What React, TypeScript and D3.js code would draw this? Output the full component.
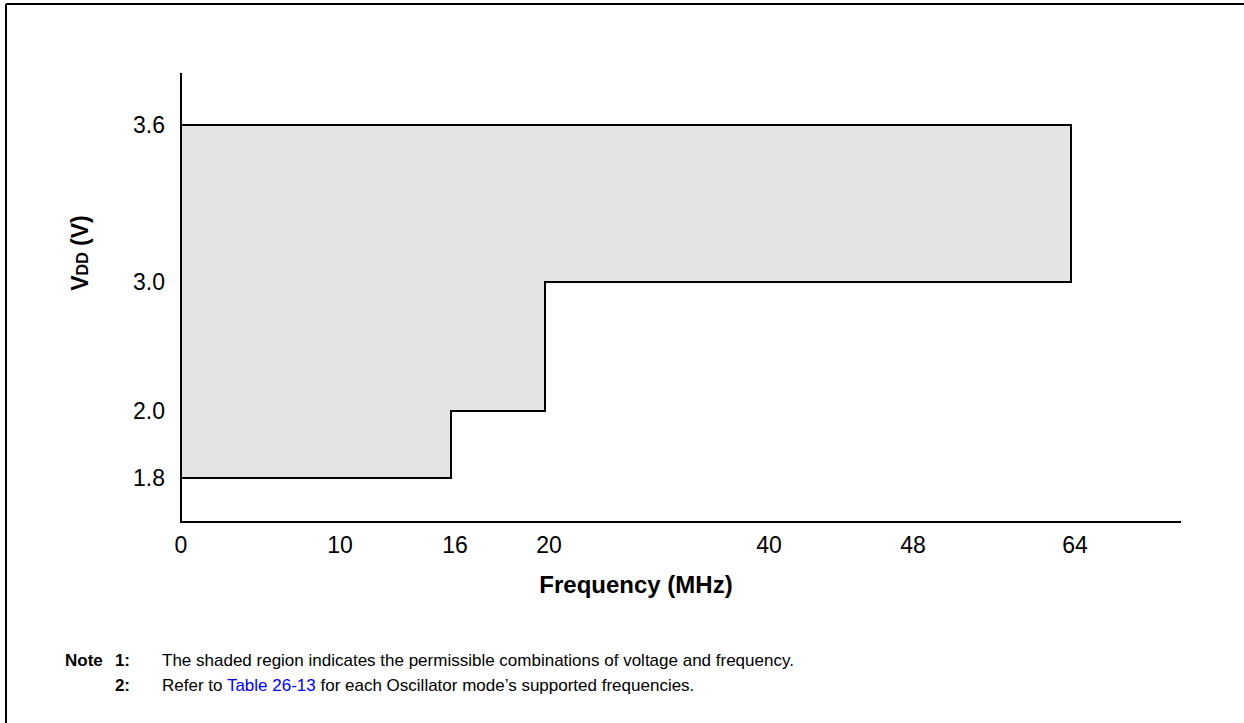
import React from "react";
import * as d3 from "d3";

// Data
const freqTicks = [0, 10, 16, 20, 40, 48, 64];
const vddTicks = [1.8, 2.0, 3.0, 3.6];
// Operating region boundary (frequency MHz, VDD V), clockwise
const regionFreq = [0, 64, 64, 20, 20, 16, 16, 0];
const regionVdd = [3.6, 3.6, 3.0, 3.0, 2.0, 2.0, 1.8, 1.8];
const xTitle = "Frequency (MHz)";
const note1 = "The shaded region indicates the permissible combinations of voltage and frequency.";
const note2Pre = "Refer to ";
const note2Link = "Table 26-13";
const note2Post = " for each Oscillator mode\u2019s supported frequencies.";

const W = 1244;
const H = 723;
const FONT = "'Liberation Sans', Arial, Helvetica, sans-serif";

export default function App() {
  // schematic (non-linear) axes: piecewise scales
  const x = d3
    .scaleLinear()
    .domain(freqTicks)
    .range([181, 336, 451, 545, 765, 909, 1071]);
  const y = d3
    .scaleLinear()
    .domain(vddTicks)
    .range([478, 411, 282, 125]);

  const pts: [number, number][] = regionFreq.map((f, i) => [x(f), y(regionVdd[i])]);
  const line = d3.line<[number, number]>().curve(d3.curveLinearClosed);

  const axisX0 = 181;
  const axisY0 = 522;
  const axisTop = 73;
  const axisRight = 1181;

  return (
    <svg
      width={W}
      height={H}
      style={{ position: "absolute", left: 0, top: 0, background: "#fff" }}
      fontFamily={FONT}
    >
      {/* frame */}
      <line x1={6} y1={4} x2={W} y2={4} stroke="#000" strokeWidth={2} />
      <line x1={6} y1={4} x2={6} y2={H} stroke="#000" strokeWidth={2} />

      {/* shaded region */}
      <path d={line(pts) || ""} fill="#e4e4e4" stroke="#000" strokeWidth={2} />

      {/* axes */}
      <line x1={axisX0} y1={axisTop} x2={axisX0} y2={axisY0 + 1} stroke="#000" strokeWidth={2} />
      <line x1={axisX0} y1={axisY0} x2={axisRight} y2={axisY0} stroke="#000" strokeWidth={2} />

      {/* y tick labels */}
      {vddTicks.map((v) => (
        <text
          key={"y" + v}
          x={165}
          y={y(v)}
          dy="0.36em"
          textAnchor="end"
          fontSize={23}
          fill="#000"
        >
          {v.toFixed(1)}
        </text>
      ))}

      {/* x tick labels */}
      {freqTicks.map((f) => (
        <text
          key={"x" + f}
          x={x(f) + (f > 0 ? 4 : 0)}
          y={553}
          textAnchor="middle"
          fontSize={23}
          fill="#000"
        >
          {f}
        </text>
      ))}

      {/* axis titles */}
      <text
        transform={`translate(88,253) rotate(-90)`}
        textAnchor="middle"
        fontSize={23}
        fontWeight="bold"
        fill="#000"
      >
        V<tspan fontSize={16}>DD</tspan> (V)
      </text>
      <text x={636} y={593} textAnchor="middle" fontSize={24} fontWeight="bold" fill="#000">
        {xTitle}
      </text>

      {/* notes */}
      <text x={65} y={666} fontSize={17} fontWeight="bold" fill="#000">
        Note
      </text>
      <text x={130} y={666} textAnchor="end" fontSize={17} fontWeight="bold" fill="#000">
        1:
      </text>
      <text x={162} y={666} fontSize={17} fill="#000">
        {note1}
      </text>
      <text x={130} y={691} textAnchor="end" fontSize={17} fontWeight="bold" fill="#000">
        2:
      </text>
      <text x={162} y={691} fontSize={17} fill="#000">
        {note2Pre}
        <tspan fill="#0000ff">{note2Link}</tspan>
        {note2Post}
      </text>
    </svg>
  );
}
